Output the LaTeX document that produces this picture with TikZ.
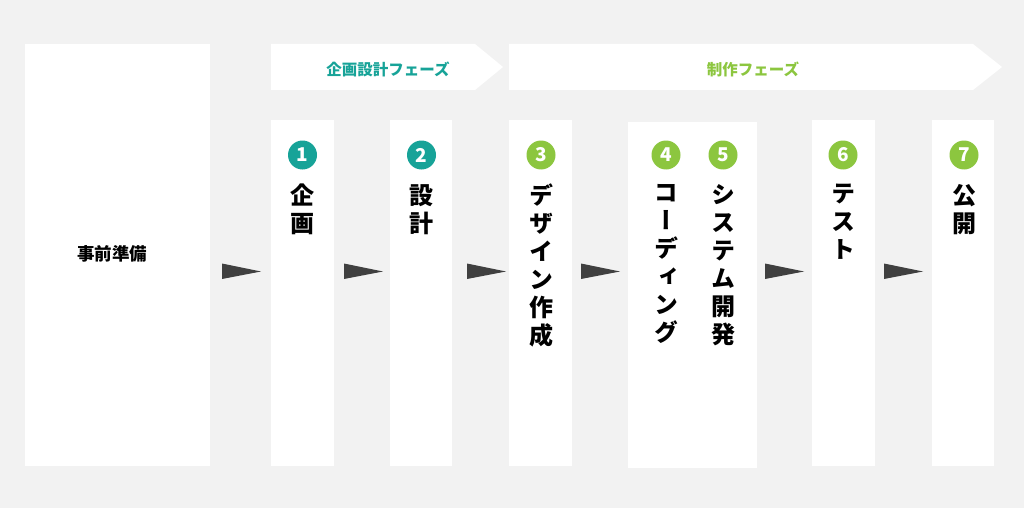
\documentclass[tikz,border=0pt]{standalone}
\usepackage{fontspec}
\newfontfamily\cjk{Noto Sans CJK JP}
\newfontfamily\cjkv{Noto Sans CJK JP}[RawFeature=+vert]
\definecolor{bgc}{HTML}{F2F2F2}
\definecolor{teal}{HTML}{17A398}
\definecolor{lime}{HTML}{8CC63F}
\definecolor{arr}{HTML}{404040}
\tikzset{
  panel/.style={fill=white,draw=none},
  numc/.style={circle,fill=#1,minimum size=29pt,inner sep=0pt,text=white,font=\cjk\bfseries\fontsize{19}{19}\selectfont},
  vtext/.style={anchor=north,align=center,inner sep=0pt,font=\cjkv\bfseries\fontsize{24}{28}\selectfont},
  phasetext/.style={font=\cjk\bfseries\fontsize{15.5}{16}\selectfont,text=#1},
  tri/.style={fill=arr},
}
\begin{document}
\begin{tikzpicture}[x=1pt,y=-1pt]
\fill[bgc] (0,0) rectangle (1024,508);
\useasboundingbox (0,0) rectangle (1024,508);
% phase headers
\fill[panel] (271,44) -- (475,44) -- (503,67) -- (475,90) -- (271,90) -- cycle;
\fill[panel] (509,44) -- (973,44) -- (1002,67) -- (973,90) -- (509,90) -- cycle;
\node[phasetext=teal] (ph1) at (388,69) {企画設計フェーズ};
\node[phasetext=lime] (ph2) at (753,69) {制作フェーズ};
% panels
\fill[panel] (25,44) rectangle (210,466);
\fill[panel] (271,120) rectangle (334,466);
\fill[panel] (390,120) rectangle (452,466);
\fill[panel] (509,120) rectangle (572,466);
\fill[panel] (628,122) rectangle (757,468);
\fill[panel] (812,120) rectangle (875,466);
\fill[panel] (932,120) rectangle (994,466);
\node[font=\cjk\bfseries\fontsize{17.5}{18}\selectfont] (prep) at (112,254) {事前準備};
% numbers
\node[numc=teal] (n1) at (302.5,155) {1};
\node[numc=teal] (n2) at (421.5,155) {2};
\node[numc=lime] (n3) at (541,155) {3};
\node[numc=lime] (n4) at (666,155) {4};
\node[numc=lime] (n5) at (723,155) {5};
\node[numc=lime] (n6) at (843,155) {6};
\node[numc=lime] (n7) at (964,155) {7};
% vertical labels
\node[vtext] (t1) at (302.5,184) {企\\画};
\node[vtext] (t2) at (421.5,184) {設\\計};
\node[vtext] (t3) at (541,184) {デ\\ザ\\イ\\ン\\作\\成};
\node[vtext] (t4) at (666,184) {コ\\ー\\デ\\ィ\\ン\\グ};
\node[vtext] (t5) at (723,184) {シ\\ス\\テ\\ム\\開\\発};
\node[vtext] (t6) at (843,184) {テ\\ス\\ト};
\node[vtext] (t7) at (964,184) {公\\開};
% arrows
\foreach \xa in {222,344,467,581,765,884}{
  \fill[tri] (\xa,263.5) -- (\xa+39,271.5) -- (\xa,279) -- cycle;
}
\end{tikzpicture}
\end{document}
